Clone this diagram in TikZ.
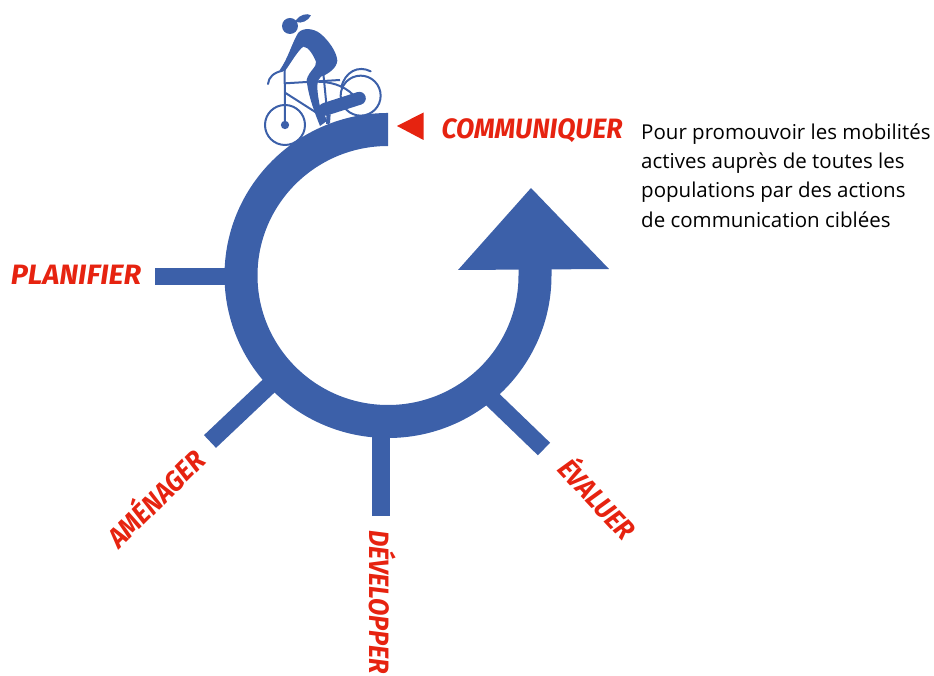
\documentclass[tikz,border=0pt]{standalone}
\usepackage{fontspec}
\setmainfont{Open Sans}
\newfontfamily\handfont{Fira Sans}
\definecolor{bleu}{HTML}{3C60A9}
\definecolor{rouge}{HTML}{E62310}
\newcommand{\verbtxt}[2]{\scalebox{#1}[1]{#2}}
\tikzset{
  spoke/.style={draw=bleu,line width=17.5pt},
  verb/.style={text=rouge,font=\handfont\bfseries\itshape\fontsize{28}{28}\selectfont,inner sep=0pt},
  thin bike/.style={draw=bleu,line width=2pt},
}
\begin{document}
\begin{tikzpicture}[x=1pt,y=-1pt]
\useasboundingbox (0,0) rectangle (934,676);
\clip (0,0) rectangle (934,676);
% ring with arrow
\draw[bleu,line width=33pt] (386,129.5) -- (388,129.5) arc[start angle=-90,end angle=-360,x radius=147,y radius=146] -- (535,268);
\fill[bleu] (531,188) -- (458,270) -- (609,269) -- cycle;
% spokes
\coordinate (p0) at (155,276.5); \coordinate (p1) at (232,276.5);
\coordinate (a0) at (210,441.5); \coordinate (a1) at (274,381);
\coordinate (d0) at (381,516); \coordinate (d1) at (381,428);
\coordinate (e0) at (544,449); \coordinate (e1) at (488,395);
\draw[spoke] (p0) -- (p1);
\draw[spoke] (a0) -- (a1);
\draw[spoke] (d0) -- (d1);
\draw[spoke] (e0) -- (e1);
% labels
\node[verb] (comm) at (532,131) {\verbtxt{0.95}{COMMUNIQUER}};
\node[verb] (plan) at (76,275) {\verbtxt{1.03}{PLANIFIER}};
\node[verb,rotate=45] (amen) at (154,497) {\verbtxt{0.91}{AMÉNAGER}};
\node[verb,rotate=-90,anchor=west] (dev) at (383,530) {\verbtxt{0.9}{DÉVELOPPER}};
\node[verb,rotate=-47] (eval) at (599,497) {\verbtxt{0.9}{ÉVALUER}};
\fill[rouge] (397,126) -- (423.5,112.5) -- (423.5,140) -- cycle;
\node[anchor=north west,align=left,inner sep=0pt,font=\fontsize{20.5}{29.2}\selectfont] (txt) at (641,123.5)
 {Pour promouvoir les mobilités\\actives auprès de toutes les\\populations par des actions\\de communication ciblées};
% cyclist
\begin{scope}[shift={(240,0)},x=0.3333pt,y=-0.3333pt]
 \draw[thin bike] (135,375) circle[radius=60];
 \draw[thin bike] (362,287) circle[radius=60];
 \fill[bleu] (135,375) circle[radius=12.5];
 \draw[thin bike] (134,210) -- (135,375);
 \draw[thin bike,line cap=round] (84,252) .. controls (86,232) and (100,218) .. (128,212);
 \draw[thin bike] (135,250) -- (300,240);
 \draw[thin bike] (228,245) .. controls (270,245) and (310,255) .. (340,285);
 \draw[thin bike] (135,278) -- (240,345);
 \draw[thin bike] (250,220) -- (265,372);
 \draw[thin bike,line cap=round] (304,262) .. controls (315,215) and (355,195) .. (392,214);
 \draw[bleu,line width=13pt,line cap=round] (255,328) -- (358,295);
 \fill[bleu] (150,78) circle[radius=24];
 \fill[bleu] (168,60) .. controls (180,45) and (200,38) .. (213,46) .. controls (205,62) and (185,72) .. (168,66) -- cycle;
 \fill[bleu] (175,98) .. controls (190,82) and (220,85) .. (240,100)
   .. controls (265,120) and (290,155) .. (292,182)
   .. controls (290,205) and (265,222) .. (243,230)
   .. controls (230,240) and (228,260) .. (240,320)
   -- (262,362) -- (240,378)
   .. controls (225,340) and (205,290) .. (200,240)
   .. controls (205,215) and (232,200) .. (228,185)
   .. controls (220,165) and (205,140) .. (190,140)
   .. controls (175,150) and (155,185) .. (135,213)
   -- (118,212)
   .. controls (145,175) and (155,130) .. (175,98) -- cycle;
 \fill[bleu] (260,345) -- (258,372) -- (270,370) -- (272,343) -- cycle;
\end{scope}
\end{tikzpicture}
\end{document}
